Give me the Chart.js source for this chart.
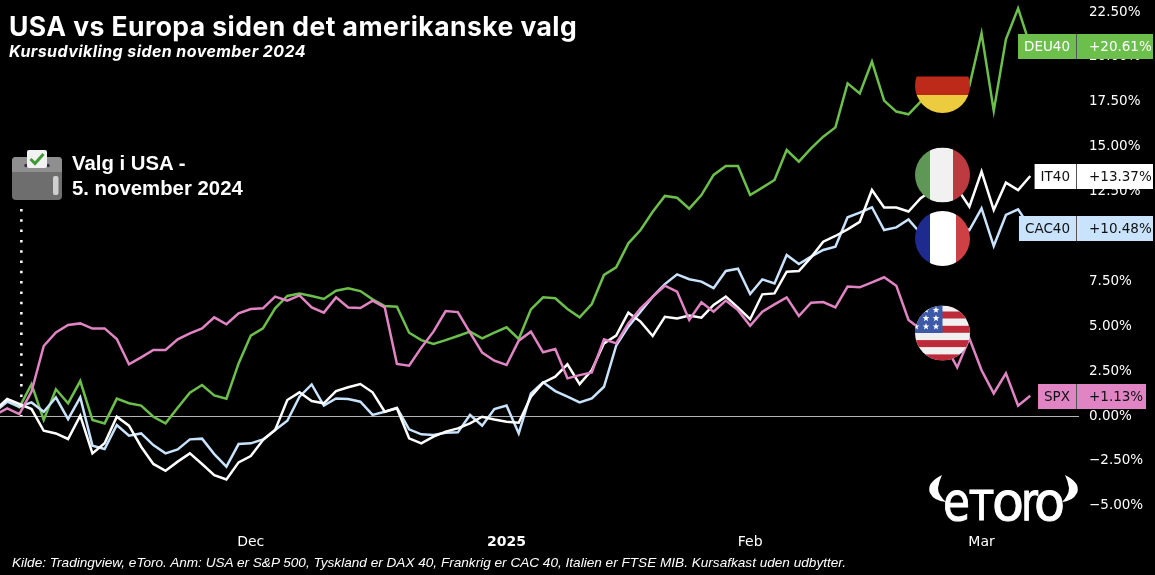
<!DOCTYPE html>
<html>
<head>
<meta charset="utf-8">
<title>USA vs Europa</title>
<script src="https://cdn.jsdelivr.net/npm/chart.js@4"></script>
<style>
  html, body { margin: 0; padding: 0; background: #000; overflow: hidden; }
  body { width: 1155px; height: 575px; position: relative; font-family: "Liberation Sans", Arial, sans-serif; color: #fff; }
  #myChart { position: absolute; left: -5px; top: 0; }
  .txt { position: absolute; white-space: nowrap; }
  #title { left: 9px; top: 10px; font-family: Inter, sans-serif; font-size: 26.5px; font-weight: bold; letter-spacing: 0.45px; }
  #subtitle { left: 9px; top: 41px; font-family: Inter, sans-serif; font-size: 16px; font-weight: bold; font-style: italic; letter-spacing: 0.42px; }
  #valg { left: 72px; top: 151px; font-size: 20.35px; font-weight: bold; line-height: 25px; }
  #kilde { left: 12px; top: 555px; font-size: 13.6px; font-style: italic; }
</style>
</head>
<body>
<canvas id="myChart" width="1160" height="575"></canvas>
<div class="txt" id="title">USA vs Europa siden det amerikanske valg</div>
<div class="txt" id="subtitle">Kursudvikling siden november 2024</div>
<div class="txt" id="valg">Valg i USA -<br>5. november 2024</div>
<div class="txt" id="kilde">Kilde: Tradingview, eToro. Anm: USA er S&amp;P 500, Tyskland er DAX 40, Frankrig er CAC 40, Italien er FTSE MIB. Kursafkast uden udbytter.</div>
<script>
//trading days, the last few have no data and only leave room before the price axis
const days = [
  "2024-11-01","2024-11-04","2024-11-05","2024-11-06","2024-11-07","2024-11-08","2024-11-11","2024-11-12","2024-11-13","2024-11-14","2024-11-15",
  "2024-11-18","2024-11-19","2024-11-20","2024-11-21","2024-11-22","2024-11-25","2024-11-26","2024-11-27","2024-11-28","2024-11-29",
  "2024-12-02","2024-12-03","2024-12-04","2024-12-05","2024-12-06","2024-12-09","2024-12-10","2024-12-11","2024-12-12","2024-12-13",
  "2024-12-16","2024-12-17","2024-12-18","2024-12-19","2024-12-20","2024-12-23","2024-12-24","2024-12-26","2024-12-27","2024-12-30","2024-12-31",
  "2025-01-02","2025-01-03","2025-01-06","2025-01-07","2025-01-08","2025-01-10","2025-01-13","2025-01-14","2025-01-15","2025-01-16","2025-01-17",
  "2025-01-21","2025-01-22","2025-01-23","2025-01-24","2025-01-27","2025-01-28","2025-01-29","2025-01-30","2025-01-31",
  "2025-02-03","2025-02-04","2025-02-05","2025-02-06","2025-02-07","2025-02-10","2025-02-11","2025-02-12","2025-02-13","2025-02-14",
  "2025-02-18","2025-02-19","2025-02-20","2025-02-21","2025-02-24","2025-02-25","2025-02-26","2025-02-27","2025-02-28",
  "2025-03-03","2025-03-04","2025-03-05","2025-03-06","2025-03-07","2025-03-10","2025-03-11","2025-03-12","2025-03-13"
];
const monthTicks = {"2024-12-02": "Dec", "2025-01-02": "2025", "2025-02-03": "Feb", "2025-03-03": "Mar"};
const electionDay = "2024-11-05";

const spx = [0.06,0.43,0.11,1.36,3.90,4.66,5.07,5.16,4.87,4.88,4.29,2.88,3.27,3.68,3.68,4.27,4.60,4.88,5.50,5.11,5.72,5.96,6.00,6.65,6.43,6.72,6.05,5.76,6.61,6.05,
  6.02,6.43,6.05,2.90,2.80,3.81,4.70,5.85,5.79,4.64,3.53,3.08,2.84,4.20,4.70,3.55,3.73,2.10,2.28,2.43,4.27,4.05,5.16,6.00,6.65,7.26,6.93,5.35,
  6.34,5.81,6.43,5.90,5.03,5.81,6.22,6.61,5.57,6.31,6.35,6.05,7.21,7.17,7.45,7.73,7.26,5.35,4.83,4.23,3.96,2.71,4.33,2.55,1.26,2.38,0.58,1.13];
const deu40 = [0.30,0.85,0.48,1.78,-0.22,1.49,0.71,1.95,-0.22,-0.41,0.97,0.71,0.58,-0.04,-0.41,0.46,1.30,1.73,1.15,0.97,2.93,4.48,4.88,6.00,6.69,6.83,6.69,6.52,6.98,7.11,
  6.96,6.50,6.13,6.09,4.64,4.23,4.01,4.23,4.46,4.70,4.33,4.64,4.94,4.29,5.94,6.61,6.56,5.96,5.50,6.24,7.86,8.28,9.62,10.36,11.38,12.26,12.16,11.55,
  12.31,13.43,13.93,13.93,12.31,12.72,13.15,14.82,14.17,14.91,15.56,16.08,18.53,17.97,19.74,17.57,16.96,16.81,17.51,18.16,18.44,18.32,18.38,21.32,17.00,20.98,22.71,20.61];
const cac40 = [0.24,0.80,0.52,0.76,0.24,1.04,-0.17,1.04,-1.65,-1.84,-0.50,-1.10,-0.97,-1.62,-2.08,-1.86,-1.30,-1.26,-2.12,-2.82,-1.56,-1.52,-1.30,-0.78,-0.26,1.08,1.76,0.58,0.98,0.95,
  0.80,0.06,0.24,0.46,-0.74,-1.02,-1.06,-0.93,-0.91,0.06,-0.54,0.39,0.58,-0.97,1.26,1.88,1.39,1.08,0.76,0.98,1.63,3.92,4.98,5.81,6.65,7.35,7.89,7.62,
  7.49,7.12,8.08,8.21,6.80,7.61,7.39,8.97,8.47,8.88,9.25,9.43,11.07,11.33,11.63,10.36,10.51,10.95,10.17,10.60,10.40,10.70,10.36,11.57,9.47,11.20,11.51,10.48];
const it40 = [0.33,0.95,0.67,0.39,-0.82,-0.97,-1.28,0.02,-2.08,-1.52,-0.04,-0.54,-1.71,-2.67,-3.05,-2.54,-2.08,-2.67,-3.29,-3.53,-2.58,-2.23,-1.34,-0.78,0.89,1.32,0.84,0.71,1.39,1.60,
  1.78,1.32,0.24,0.43,-1.24,-1.52,-1.15,-0.87,-0.69,-0.41,-0.04,-0.19,-0.32,-0.37,1.08,1.86,2.19,2.88,1.78,2.56,4.05,4.48,5.76,5.26,4.46,5.53,5.44,5.60,
  5.48,6.19,6.65,6.04,5.39,6.78,6.83,8.04,8.08,8.84,9.71,10.03,10.40,10.82,12.59,11.62,11.61,11.39,12.13,12.60,12.30,12.68,11.66,13.62,11.48,13.00,12.59,13.37];

const yTickMin = -5, yTickMax = 22.5, yTickStep = 2.5;

//first dataset is painted last, so this is also the overlap order of the lines
const seriesList = [
  {name: "SPX", data: spx, color: "#e084c4", text: "#111"},
  {name: "IT40", data: it40, color: "#ffffff", text: "#111"},
  {name: "CAC40", data: cac40, color: "#c8e3fb", text: "#111"},
  {name: "DEU40", data: deu40, color: "#6cbf4a", text: "#fff"}
];

function circleFlag(ctx, cx, cy, r, paint) {
  ctx.save();
  ctx.beginPath();
  ctx.arc(cx, cy, r, 0, Math.PI * 2);
  ctx.clip();
  paint(cx - r, cy - r, r * 2);
  ctx.restore();
}

function star(ctx, x, y, r) {
  ctx.beginPath();
  for (let i = 0; i < 10; i++) {
    const a = -Math.PI / 2 + i * Math.PI / 5;
    const d = i % 2 ? r * 0.42 : r;
    ctx.lineTo(x + Math.cos(a) * d, y + Math.sin(a) * d);
  }
  ctx.closePath();
  ctx.fill();
}

function drawFlags(ctx) {
  const cx = 947.5, r = 27.5; //canvas sits 5px left of the page
  circleFlag(ctx, cx, 85.5, r, function (x, y, s) {
    ctx.fillStyle = "#000"; ctx.fillRect(x, y, s, 18.5);
    ctx.fillStyle = "#bd2a1a"; ctx.fillRect(x, y + 18.5, s, 18.5);
    ctx.fillStyle = "#eccb3f"; ctx.fillRect(x, y + 37, s, 18);
  });
  circleFlag(ctx, cx, 175, r, function (x, y, s) {
    ctx.fillStyle = "#5f9757"; ctx.fillRect(x, y, 15, s);
    ctx.fillStyle = "#f1f1f1"; ctx.fillRect(x + 15, y, 23, s);
    ctx.fillStyle = "#bc3a40"; ctx.fillRect(x + 38, y, 17, s);
  });
  circleFlag(ctx, cx, 238.5, r, function (x, y, s) {
    ctx.fillStyle = "#1f2a8e"; ctx.fillRect(x, y, 15, s);
    ctx.fillStyle = "#ffffff"; ctx.fillRect(x + 15, y, 26, s);
    ctx.fillStyle = "#cf4045"; ctx.fillRect(x + 41, y, 14, s);
  });
  circleFlag(ctx, cx, 333, r, function (x, y, s) {
    ctx.fillStyle = "#f0f0f0"; ctx.fillRect(x, y, s, s);
    ctx.fillStyle = "#bd2a3a";
    for (let k = 0; k < 4; k++) ctx.fillRect(x, y + 6 + k * 14.3, s, 7);
    ctx.fillStyle = "#3d5aa8"; ctx.fillRect(x, y, s / 2, s / 2);
    ctx.fillStyle = "#fff";
    for (let row = 0; row < 3; row++) {
      for (let col = 0; col < 3; col++) {
        star(ctx, x + 1 + col * 10, y + 4.5 + row * 8.3, 3.5);
      }
    }
  });
}

function drawBallotBox(ctx) {
  ctx.fillStyle = "#6e6e6e";
  ctx.beginPath(); ctx.roundRect(17, 157, 50, 43, 4); ctx.fill();
  ctx.fillStyle = "#8f8f8f";
  ctx.beginPath(); ctx.roundRect(17, 157, 50, 15, [4, 4, 0, 0]); ctx.fill();
  ctx.fillStyle = "#3a3040";
  ctx.beginPath(); ctx.arc(31, 165.5, 1.8, 0, Math.PI * 2); ctx.arc(53, 165.5, 1.8, 0, Math.PI * 2); ctx.fill();
  ctx.fillStyle = "#f2f2f2";
  ctx.beginPath(); ctx.roundRect(32, 150, 20, 18, 2); ctx.fill();
  ctx.strokeStyle = "#3f9a35"; ctx.lineWidth = 3;
  ctx.beginPath(); ctx.moveTo(35.5, 159); ctx.lineTo(40, 163.5); ctx.lineTo(48.5, 154); ctx.stroke();
  ctx.fillStyle = "#cfcfcf";
  ctx.beginPath(); ctx.roundRect(58, 176, 5.5, 19, 2); ctx.fill();
}

function drawLogo(ctx) {
  ctx.fillStyle = "#fff";
  ctx.strokeStyle = "#fff";
  ctx.lineWidth = 1;
  //horns
  ctx.beginPath();
  ctx.moveTo(947, 475); ctx.quadraticCurveTo(931, 483, 935, 493); ctx.quadraticCurveTo(939, 501, 951, 502);
  ctx.quadraticCurveTo(943, 495, 943, 488); ctx.quadraticCurveTo(944, 481, 947, 475);
  ctx.fill();
  ctx.beginPath();
  ctx.moveTo(1070, 475); ctx.quadraticCurveTo(1086, 483, 1082, 493); ctx.quadraticCurveTo(1078, 501, 1067, 502);
  ctx.quadraticCurveTo(1074, 495, 1074, 488); ctx.quadraticCurveTo(1073, 481, 1070, 475);
  ctx.fill();
  //wordmark, all letters the same height
  const letters = [["e", 53, 948, 27], ["T", 40, 975, 23], ["o", 53, 997, 32], ["r", 53, 1026, 17], ["o", 53, 1039, 31]];
  ctx.textAlign = "left";
  ctx.textBaseline = "alphabetic";
  letters.forEach(function (l) {
    ctx.font = l[1] + 'px "DejaVu Sans"';
    ctx.fillText(l[0], l[2], 520, l[3]);
    ctx.strokeText(l[0], l[2], 520, l[3]);
  });
}

//last value tags on the price axis, follow the y scale
function drawTags(chart) {
  const ctx = chart.ctx;
  const yScale = chart.scales.y;
  const right = chart.chartArea.right - 1;
  ctx.font = '13.5px "DejaVu Sans"';
  ctx.textBaseline = "middle";
  seriesList.forEach(function (s) {
    const last = s.data[s.data.length - 1];
    const y = Math.round(yScale.getPixelForValue(last));
    const value = "+" + last.toFixed(2) + "%";
    const nameW = ctx.measureText(s.name).width + 12;
    const valueW = 1160 - right - 1;
    ctx.fillStyle = s.color;
    ctx.fillRect(right - 2 - nameW, y - 12, nameW, 25);
    ctx.fillRect(right - 1, y - 12, s.name === "SPX" ? valueW - 7 : valueW, 25);
    ctx.fillStyle = "#555";
    ctx.fillRect(right - 2, y - 12, 1, 25);
    ctx.fillStyle = s.text;
    ctx.textAlign = "left";
    ctx.fillText(s.name, right - 2 - nameW + 6, y + 1);
    ctx.fillText(value, right + 11, y + 1);
  });
}

const decorations = {
  id: "decorations",
  afterDraw: function (chart) {
    const ctx = chart.ctx;
    ctx.save();
    //election marker, dotted up to the ballot box
    const xElection = chart.scales.x.getPixelForValue(days.indexOf(electionDay)) + 2;
    ctx.strokeStyle = "#fff";
    ctx.lineWidth = 2.5;
    ctx.setLineDash([2.5, 7.8]);
    ctx.beginPath();
    ctx.moveTo(xElection, 209);
    ctx.lineTo(xElection, chart.scales.y.getPixelForValue(0));
    ctx.stroke();
    ctx.setLineDash([]);
    drawBallotBox(ctx);
    drawFlags(ctx);
    drawTags(chart);
    drawLogo(ctx);
    ctx.restore();
  }
};

Chart.defaults.font.family = '"DejaVu Sans"';

const myChart = new Chart(document.getElementById("myChart"), {
  type: "line",
  data: {
    labels: days,
    datasets: seriesList.map(function (s) {
      return {
        label: s.name,
        data: s.data,
        borderColor: s.color,
        backgroundColor: s.color,
        borderWidth: 2.5,
        pointRadius: 0,
        tension: 0,
        spanGaps: false
      };
    })
  },
  options: {
    responsive: false,
    animation: false,
    layout: {padding: 0},
    plugins: {legend: {display: false}, tooltip: {enabled: false}},
    scales: {
      x: {
        type: "category",
        offset: false,
        afterFit: function (scale) {
          scale.height = 50;
          scale.paddingLeft = 0;
          scale.paddingRight = 0;
        },
        grid: {display: false},
        border: {display: false},
        ticks: {
          autoSkip: false,
          maxRotation: 0,
          padding: 1,
          color: "#fff",
          font: function (ctx) {
            return {size: 14, weight: ctx.tick && ctx.tick.label === "2025" ? "bold" : "normal"};
          },
          callback: function (value) {
            return monthTicks[days[value]] || "";
          }
        }
      },
      y: {
        position: "right",
        min: -6.07,
        max: 23.175,
        afterFit: function (scale) {
          scale.width = 76;
          scale.paddingTop = 0;
          scale.paddingBottom = 0;
        },
        grid: {
          drawTicks: false,
          color: function (ctx) { return ctx.tick.value === 0 ? "#b5b5b5" : "transparent"; }
        },
        border: {display: false},
        ticks: {
          stepSize: yTickStep,
          includeBounds: false,
          padding: 10,
          color: "#fff",
          font: {size: 13.5},
          callback: function (value) {
            if (value < yTickMin || value > yTickMax) return "";
            return (value < 0 ? "\u2212" : "") + Math.abs(value).toFixed(2) + "%";
          }
        }
      }
    }
  },
  plugins: [decorations]
});
</script>
</body>
</html>
